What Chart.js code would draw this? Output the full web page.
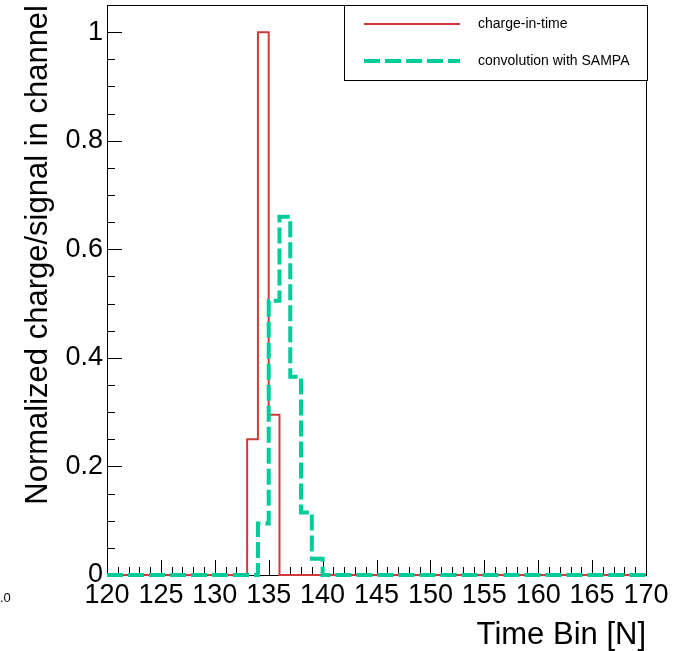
<!DOCTYPE html>
<html>
<head>
<meta charset="utf-8">
<script src="https://cdn.jsdelivr.net/npm/chart.js@4.4.1/dist/chart.umd.min.js"></script>
<style>
    html, body { margin: 0; padding: 0; background: #fff; }
    #wrap { width: 681px; height: 651px; }
</style>
</head>
<body>
<div id="wrap"><canvas id="histChart" width="681" height="651"></canvas></div>
<script>
// bins de 120 a 170 (borda inferior de cada bin)
const binEdges = [];
for (let b = 120; b <= 170; b++) binEdges.push(b);

// valores (bins 120..169)
const chargeInTime = [
    0, 0, 0, 0, 0, 0, 0, 0, 0, 0,
    0, 0, 0, 0.25, 1.0, 0.295, 0, 0, 0, 0,
    0, 0, 0, 0, 0, 0, 0, 0, 0, 0,
    0, 0, 0, 0, 0, 0, 0, 0, 0, 0,
    0, 0, 0, 0, 0, 0, 0, 0, 0, 0
];
const convolutionSampa = [
    0, 0, 0, 0, 0, 0, 0, 0, 0, 0,
    0, 0, 0, 0, 0.095, 0.505, 0.66, 0.365, 0.115, 0.03,
    0, 0, 0, 0, 0, 0, 0, 0, 0, 0,
    0, 0, 0, 0, 0, 0, 0, 0, 0, 0,
    0, 0, 0, 0, 0, 0, 0, 0, 0, 0
];

const seriesLabels = ['charge-in-time', 'convolution with SAMPA'];
const xTicks = [120, 125, 130, 135, 140, 145, 150, 155, 160, 165, 170];
const yTicks = [0, 0.2, 0.4, 0.6, 0.8, 1];
const yTickLabels = ['0', '0.2', '0.4', '0.6', '0.8', '1'];
const xTitle = 'Time Bin [N]';
const yTitle = 'Normalized charge/signal in channel';

const redColor = '#d13a3a';
const tealColor = '#00cc99';

// transforma bins em pontos para linha em degrau
function toSteps(values) {
    const pts = values.map((v, i) => ({ x: binEdges[i], y: v }));
    pts.push({ x: binEdges[values.length], y: values[values.length - 1] });
    return pts;
}

// eixos, ticks, títulos e legenda no estilo ROOT
const rootFrame = {
    id: 'rootFrame',
    beforeDatasetsDraw(chart) {
        const { ctx, chartArea: a, scales } = chart;
        const xs = scales.x, ys = scales.y;
        ctx.save();
        ctx.strokeStyle = '#000';
        ctx.lineWidth = 1;
        ctx.strokeRect(a.left + 0.5, a.top + 0.5, a.right - a.left, a.bottom - a.top);

        ctx.beginPath();
        // ticks do eixo x (para dentro)
        for (let v = xs.min; v <= xs.max; v++) {
            const px = Math.round(xs.getPixelForValue(v)) + 0.5;
            const len = (v % 5 === 0) ? 15 : 8;
            ctx.moveTo(px, a.bottom);
            ctx.lineTo(px, a.bottom - len);
        }
        // ticks do eixo y
        for (let k = 0; k <= 21; k++) {
            const v = k * 0.05;
            if (v > ys.max) break;
            const py = Math.round(ys.getPixelForValue(v)) + 0.5;
            const len = (k % 4 === 0) ? 15 : 8;
            ctx.moveTo(a.left, py);
            ctx.lineTo(a.left + len, py);
        }
        ctx.stroke();
        ctx.restore();
    },
    afterDraw(chart) {
        const { ctx, chartArea: a, scales } = chart;
        const xs = scales.x, ys = scales.y;
        ctx.save();
        ctx.fillStyle = '#000';
        ctx.font = '27px "Liberation Sans", Arial, sans-serif';

        ctx.textAlign = 'center';
        ctx.textBaseline = 'top';
        xTicks.forEach(v => {
            ctx.fillText(String(v), xs.getPixelForValue(v), a.bottom + 7);
        });

        ctx.textAlign = 'right';
        ctx.textBaseline = 'middle';
        yTicks.forEach((v, i) => {
            ctx.fillText(yTickLabels[i], a.left - 4, ys.getPixelForValue(v));
        });

        // títulos
        ctx.font = '31px "Liberation Sans", Arial, sans-serif';
        ctx.textAlign = 'right';
        ctx.textBaseline = 'alphabetic';
        ctx.fillText(xTitle, a.right, 644);

        ctx.save();
        ctx.translate(47, a.top);
        ctx.rotate(-Math.PI / 2);
        ctx.textAlign = 'right';
        ctx.fillText(yTitle, 0, 0);
        ctx.restore();

        // resto de rótulo cortado na borda
        ctx.font = '13px "Liberation Sans", Arial, sans-serif';
        ctx.textAlign = 'left';
        ctx.textBaseline = 'middle';
        ctx.fillText('.0', 0, 598);

        // legenda
        const lx = 344, ly = 5, lw = 303, lh = 75;
        ctx.fillStyle = '#fff';
        ctx.fillRect(lx, ly, lw, lh);
        ctx.strokeStyle = '#000';
        ctx.lineWidth = 1;
        ctx.strokeRect(lx + 0.5, ly + 0.5, lw, lh);

        const rows = [
            { y: 24, color: redColor, width: 2, dash: [] },
            { y: 61, color: tealColor, width: 4, dash: [16, 5] }
        ];
        rows.forEach((r, i) => {
            ctx.beginPath();
            ctx.strokeStyle = r.color;
            ctx.lineWidth = r.width;
            ctx.setLineDash(r.dash);
            ctx.moveTo(364, r.y);
            ctx.lineTo(460, r.y);
            ctx.stroke();
            ctx.setLineDash([]);
            ctx.fillStyle = '#000';
            ctx.font = '14px "Liberation Sans", Arial, sans-serif';
            ctx.textAlign = 'left';
            ctx.textBaseline = 'middle';
            ctx.fillText(seriesLabels[i], 478, r.y);
        });
        ctx.restore();
    }
};

const histCtx = document.getElementById('histChart').getContext('2d');
const histChart = new Chart(histCtx, {
    type: 'line',
    data: {
        datasets: [{
            label: seriesLabels[0],
            data: toSteps(chargeInTime),
            borderColor: redColor,
            borderWidth: 2,
            stepped: 'before',
            pointRadius: 0,
            fill: false,
            clip: false,
            order: 1
        }, {
            label: seriesLabels[1],
            data: toSteps(convolutionSampa),
            borderColor: tealColor,
            borderWidth: 4,
            borderDash: [16, 5],
            stepped: 'before',
            pointRadius: 0,
            fill: false,
            clip: false,
            order: 0
        }]
    },
    options: {
        responsive: false,
        animation: false,
        layout: {
            padding: { left: 107, right: 35, top: 5, bottom: 76 }
        },
        plugins: {
            legend: { display: false },
            tooltip: { enabled: false }
        },
        scales: {
            x: { type: 'linear', min: 120, max: 170, display: false },
            y: { type: 'linear', min: 0, max: 1.05, display: false }
        }
    },
    plugins: [rootFrame]
});
</script>
</body>
</html>
